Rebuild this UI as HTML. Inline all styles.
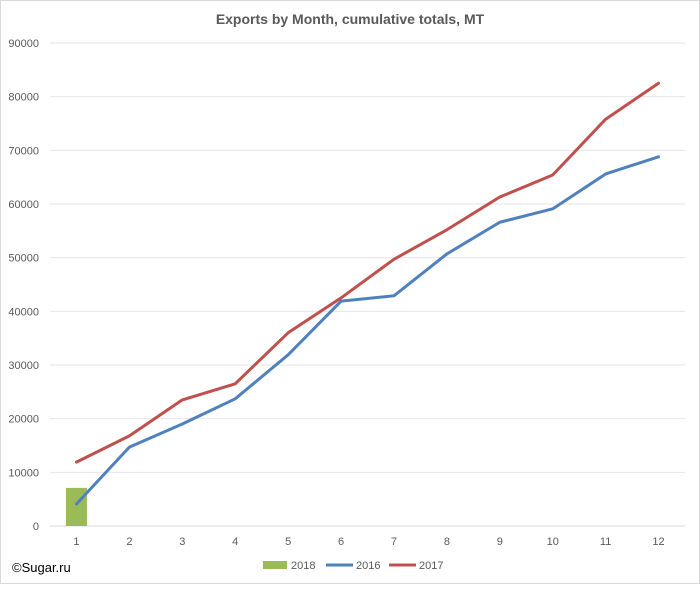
<!DOCTYPE html>
<html><head><meta charset="utf-8"><style>
body{margin:0;background:#fff;}
svg text{font-family:"Liberation Sans",sans-serif;}
</style></head><body>
<svg width="700" height="584" viewBox="0 0 700 584">
<rect x="0.5" y="0.5" width="699" height="583" fill="#fff" stroke="#d9d9d9"/>
<text x="350" y="24" text-anchor="middle" font-size="14" font-weight="bold" fill="#595959">Exports by Month, cumulative totals, MT</text>
<g id="grid"></g><g id="yt"></g><g id="xt"></g><g id="marks"></g>
<text x="12" y="572" font-size="13" fill="#000">©Sugar.ru</text>
<g>
<rect x="263" y="561" width="24" height="8" fill="#9bbb59"/>
<text x="291" y="569" font-size="11" fill="#595959">2018</text>
<line x1="326" y1="565" x2="353" y2="565" stroke="#4f81bd" stroke-width="3"/>
<text x="356" y="569" font-size="11" fill="#595959">2016</text>
<line x1="389" y1="565" x2="416" y2="565" stroke="#c0504d" stroke-width="3"/>
<text x="419" y="569" font-size="11" fill="#595959">2017</text>
</g>
</svg>
<script>
const months=[1,2,3,4,5,6,7,8,9,10,11,12];
const s2016=[4100,14700,19000,23700,31900,41900,42900,50700,56600,59100,65600,68800];
const s2017=[11900,16800,23500,26500,36000,42500,49700,55200,61300,65400,75800,82500];
const s2018=[7100];
const yTicks=[0,10000,20000,30000,40000,50000,60000,70000,80000,90000];
const NS="http://www.w3.org/2000/svg";
const L=50,R=685,Y0=526,Y1=43,YMAX=90000;
const cw=(R-L)/months.length;
const x=i=>L+cw*(i+0.5);
const y=v=>Y0-(Y0-Y1)*v/YMAX;
function mk(t,a,p){const e=document.createElementNS(NS,t);for(const k in a)e.setAttribute(k,a[k]);document.getElementById(p).appendChild(e);return e;}
yTicks.forEach(v=>{
 const g=mk('line',{x1:L,x2:R,y1:y(v),y2:y(v),stroke:v===0?'#d9d9d9':'#e6e6e6','stroke-width':1},'grid');
 
 
 const t=mk('text',{x:39,y:y(v)+4,'text-anchor':'end','font-size':11,fill:'#595959'},'yt');
 t.textContent=v;
 
 
});
months.forEach((m,i)=>{
 const t=mk('text',{x:x(i),y:545,'text-anchor':'middle','font-size':11,fill:'#595959'},'xt');
 t.textContent=m;
 
 
});
s2018.forEach((v,i)=>{
 const b=mk('rect',{x:x(i)-10.5,y:y(v),width:21,height:Y0-y(v),fill:'#9bbb59'},'marks');
 
 
});
[[s2016,'#4f81bd','line-2016'],[s2017,'#c0504d','line-2017']].forEach(([s,c,n])=>{
 const p=mk('polyline',{points:s.map((v,i)=>x(i)+','+y(v)).join(' '),fill:'none',stroke:c,'stroke-width':3,'stroke-linejoin':'round','stroke-linecap':'round'},'marks');
 
 
});
</script>
</body></html>
